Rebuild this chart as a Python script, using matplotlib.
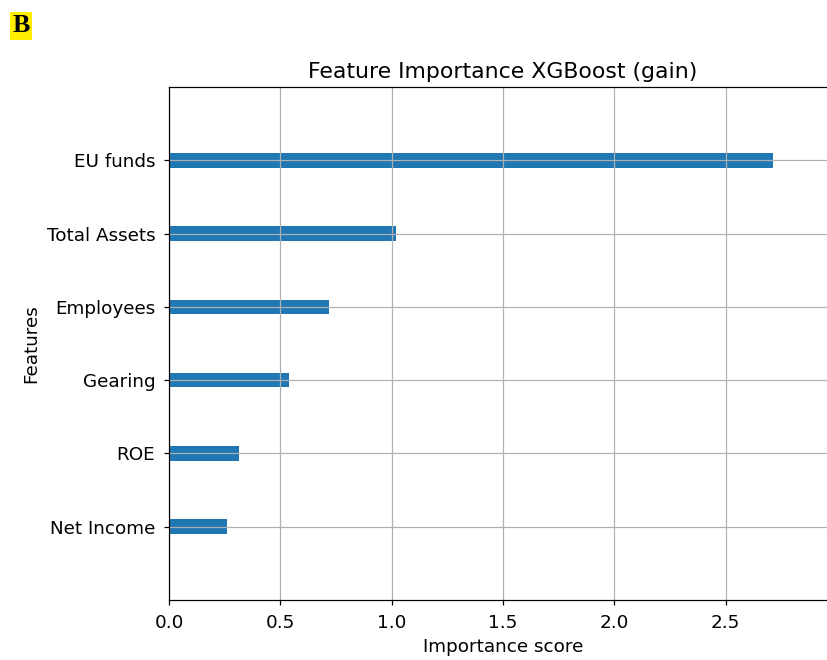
import matplotlib
matplotlib.use("Agg")
import matplotlib.pyplot as plt

# importancia por variable (gain), de abajo hacia arriba
features = ["Net Income", "ROE", "Gearing", "Employees", "Total Assets", "EU funds"]
gain = [0.259, 0.314, 0.540, 0.719, 1.019, 2.713]

DPI = 110
W, H = 827, 660

plt.rcParams["font.size"] = 12
plt.rcParams["xtick.major.pad"] = 5.5
plt.rcParams["ytick.major.pad"] = 5.5

fig = plt.figure(figsize=(W / DPI, H / DPI), dpi=DPI)
ax = fig.add_axes([169 / W, 60 / H, 668 / W, 513 / H])

ypos = range(len(features))
ax.barh(ypos, gain, height=0.2, align="center", color="#1f77b4")
ax.set_yticks(list(ypos))
ax.set_yticklabels(features)
ax.set_xlim(0, 3.0)
ax.set_ylim(-1, len(features))
ax.set_xticks([0.0, 0.5, 1.0, 1.5, 2.0, 2.5])
ax.grid(True)
ax.set_title("Feature Importance XGBoost (gain)")
ax.set_xlabel("Importance score")
ax.set_ylabel("Features")

fig.text(21 / W, 1 - 26 / H, "B", family="Liberation Serif", fontweight="bold",
         fontsize=17, va="center", ha="center",
         bbox=dict(facecolor="#ffee00", edgecolor="none", pad=1.5))

fig.savefig("out.png", dpi=DPI)
